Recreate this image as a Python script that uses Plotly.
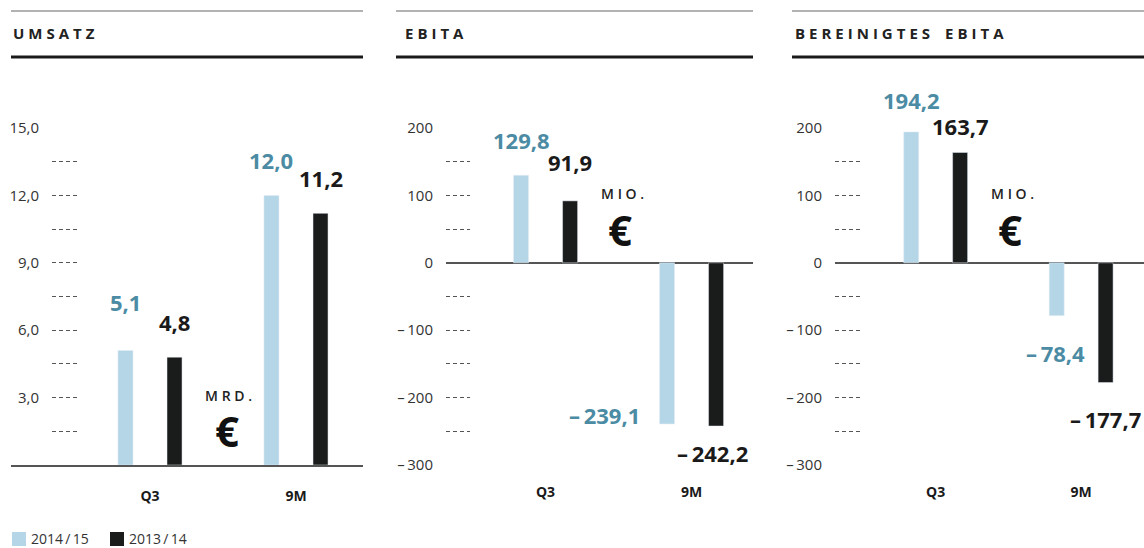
import plotly.graph_objects as go

W, H = 1144, 548

# ---------------- data ----------------
categories = ["Q3", "9M"]
series_names = ["2014\u2009/\u200915", "2013\u2009/\u200914"]

umsatz_2014 = [5.1, 12.0]
umsatz_2013 = [4.8, 11.2]
ebita_2014 = [129.8, -239.1]
ebita_2013 = [91.9, -242.2]
ber_ebita_2014 = [194.2, -78.4]
ber_ebita_2013 = [163.7, -177.7]

umsatz_ticks = [1.5, 3, 4.5, 6, 7.5, 9, 10.5, 12, 13.5, 15]
umsatz_ticklabels = ["", "3,0", "", "6,0", "", "9,0", "", "12,0", "", "15,0"]
ebita_ticks = [-300, -250, -200, -150, -100, -50, 0, 50, 100, 150, 200]
ebita_ticklabels = ["\u2013\u2009300", "", "\u2013\u2009200", "", "\u2013\u2009100", "",
                    "0", "", "100", "", "200"]

titles = ["UMSATZ", "EBITA", "BEREINIGTES EBITA"]
units = ["MRD.", "MIO.", "MIO."]

# ---------------- styling ----------------
LIGHT = "#b4d6e7"
DARK = "#1a1c1b"
LIGHT_TXT = "#4b8ba3"
DARK_TXT = "#1a1a1a"
AXIS_TXT = "#333333"
LINE = "#555555"
FONT = "Open Sans"


def px(x):
    return x / W


def py(y):
    return 1 - y / H


def fmt(v):
    s = f"{abs(v):.1f}".replace(".", ",")
    return ("\u2013\u2009" + s) if v < 0 else s


def spaced(t):
    return "\u2009\u200a".join(t).replace("\u2009\u200a \u2009\u200a", "\u2003")


ydom = [py(465), py(128)]
BAR_W = 0.103
OFF = 0.168

panels = [
    dict(vals=(umsatz_2014, umsatz_2013), rng=[0, 15], ticks=umsatz_ticks, labels=umsatz_ticklabels,
         dom=[11, 363], xr=[-0.952, 1.459], dash=[52, 78], zero=False,
         shifts=[(0, 48), (0, 35), (0, 35), (0, 35)], xanch=["center"] * 4,
         unit_pos=(228, 395, 227, 430), line=[11, 363], title_x=11),
    dict(vals=(ebita_2014, ebita_2013), rng=[-300, 200], ticks=ebita_ticks, labels=ebita_ticklabels,
         dom=[446, 753], xr=[-0.682, 1.421], dash=[446, 470], zero=True,
         shifts=[(0, 35), (0, 39), (-18, 9), (-4, -27)], xanch=["center", "center", "right", "center"],
         unit_pos=(622, 193, 620, 229), line=[396, 753], title_x=403),
    dict(vals=(ber_ebita_2014, ber_ebita_2013), rng=[-300, 200], ticks=ebita_ticks, labels=ebita_ticklabels,
         dom=[835, 1144], xr=[-0.692, 1.432], dash=[835, 860], zero=True,
         shifts=[(0, 32), (0, 26), (-1, -37), (0, -36)], xanch=["center"] * 4,
         unit_pos=(1012, 193, 1010, 229), line=[792, 1144], title_x=793),
]

fig = go.Figure()
layout = dict(
    width=W, height=H, margin=dict(l=0, r=0, t=0, b=0, autoexpand=False),
    paper_bgcolor="white", plot_bgcolor="rgba(0,0,0,0)",
    barmode="overlay", hovermode=False,
    font=dict(family=FONT, color=AXIS_TXT, size=15),
    showlegend=False,
)
annotations = []
shapes = []

for i, p in enumerate(panels):
    n = i + 1
    xa = "x" if n == 1 else f"x{n}"
    ya = "y" if n == 1 else f"y{n}"
    dn = n + 3
    xd, yd = f"x{dn}", f"y{dn}"

    light, dark = p["vals"]
    fig.add_trace(go.Bar(x=categories, y=light, name=series_names[0], marker_color=LIGHT,
                         width=BAR_W, offset=-OFF - BAR_W / 2, xaxis=xa, yaxis=ya, cliponaxis=False))
    fig.add_trace(go.Bar(x=categories, y=dark, name=series_names[1], marker_color=DARK,
                         width=BAR_W, offset=OFF - BAR_W / 2, xaxis=xa, yaxis=ya, cliponaxis=False))
    fig.add_trace(go.Scatter(x=[None], y=[None], xaxis=xd, yaxis=yd))

    xkey = "xaxis" if n == 1 else f"xaxis{n}"
    ykey = "yaxis" if n == 1 else f"yaxis{n}"
    layout[xkey] = dict(domain=[px(p["dom"][0]), px(p["dom"][1])], range=p["xr"], type="category",
                        anchor=ya, showline=(n == 1), linecolor=LINE, linewidth=2, ticks="",
                        showgrid=False, zeroline=False, ticklabelstandoff=17,
                        tickfont=dict(size=14, color=DARK_TXT, family=FONT, weight="bold"))
    layout[ykey] = dict(domain=ydom, range=p["rng"], anchor=xa, showticklabels=False, ticks="",
                        showgrid=False, zeroline=p["zero"], zerolinecolor=LINE, zerolinewidth=2,
                        showline=False)
    layout[f"xaxis{dn}"] = dict(domain=[px(p["dash"][0]), px(p["dash"][1])], range=[0, 1],
                                anchor=yd, visible=False)
    layout[f"yaxis{dn}"] = dict(domain=ydom, range=p["rng"], anchor=xd, tickvals=p["ticks"],
                                ticktext=p["labels"], showgrid=True, gridcolor=LINE, gridwidth=1,
                                griddash="4px,3px", ticks="", zeroline=False, showline=False,
                                ticklabelstandoff=12, tickfont=dict(size=15, color=AXIS_TXT))

    # value labels
    items = []
    for j in range(len(categories)):
        items.append((j, light[j], LIGHT_TXT, -OFF))
        items.append((j, dark[j], DARK_TXT, OFF))
    for (j, v, col, off), (sx, sy), xanc in zip(items, p["shifts"], p["xanch"]):
        xpos = j + off
        if xanc == "right":
            xpos = j + off - BAR_W / 2
        annotations.append(dict(x=xpos, y=v, xref=xa, yref=ya, text=fmt(v), showarrow=False,
                                xanchor=xanc, yanchor="middle", xshift=sx, yshift=sy,
                                font=dict(size=22, color=col, family=FONT, weight="bold")))

    # titles and rules
    annotations.append(dict(x=px(p["title_x"]), y=py(33), xref="paper", yref="paper",
                            text=spaced(titles[i]), showarrow=False, xanchor="left", yanchor="middle",
                            font=dict(size=15, color="#222222", family=FONT, weight="bold")))
    shapes.append(dict(type="line", xref="paper", yref="paper", x0=px(p["line"][0]), x1=px(p["line"][1]),
                       y0=py(11), y1=py(11), line=dict(color="#666666", width=1)))
    shapes.append(dict(type="line", xref="paper", yref="paper", x0=px(p["line"][0]), x1=px(p["line"][1]),
                       y0=py(57), y1=py(57), line=dict(color="#1a1a1a", width=3)))

    # unit
    ux, uy, ex, ey = p["unit_pos"]
    annotations.append(dict(x=px(ux), y=py(uy), xref="paper", yref="paper", text=spaced(units[i]),
                            showarrow=False, xanchor="center", yanchor="middle",
                            font=dict(size=14, color="#222222", family=FONT, weight=600)))
    annotations.append(dict(x=px(ex), y=py(ey), xref="paper", yref="paper", text="€",
                            showarrow=False, xanchor="center", yanchor="middle",
                            font=dict(size=42, color="#111111", family=FONT, weight="bold")))

# legend (drawn as key squares + labels)
legend_items = [(12, LIGHT, series_names[0]), (110, DARK, series_names[1])]
for lx, col, name in legend_items:
    shapes.append(dict(type="rect", xref="paper", yref="paper", x0=px(lx), x1=px(lx + 14),
                       y0=py(546), y1=py(532), fillcolor=col, line=dict(width=0)))
    annotations.append(dict(x=px(lx + 17), y=py(538), xref="paper", yref="paper", text=name,
                            showarrow=False, xanchor="left", yanchor="middle",
                            font=dict(size=14, color=AXIS_TXT, family=FONT)))

layout["annotations"] = annotations
layout["shapes"] = shapes
fig.update_layout(**layout)
fig.write_html("out.html", post_script="document.body.style.margin='0px';",
               config={"displayModeBar": False})
